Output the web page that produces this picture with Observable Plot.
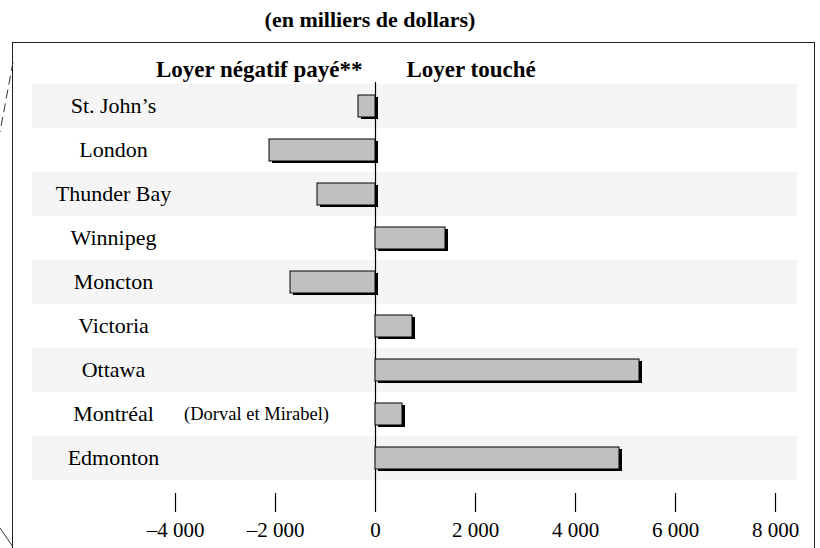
<!DOCTYPE html>
<html>
<head>
<meta charset="utf-8">
<script src="https://cdn.jsdelivr.net/npm/d3@7"></script>
<script src="https://cdn.jsdelivr.net/npm/@observablehq/plot@0.6"></script>
<style>
  html, body { margin: 0; padding: 0; background: #fff; overflow: hidden; }
  #page { position: relative; width: 820px; height: 548px; font-family: "Liberation Serif", "Times New Roman", serif; color: #000; }
  #title { position: absolute; left: 370px; top: 7px; transform: translateX(-50%); font-weight: bold; font-size: 22px; white-space: nowrap; }
  #frame { position: absolute; left: 12px; top: 42px; width: 803px; height: 600px; border: 1.5px solid #222; box-sizing: border-box; }
  #chart { position: absolute; left: 0; top: 43px; }
  #curl { position: absolute; left: 0; top: 0; }
</style>
</head>
<body>
<div id="page">
  <div id="title">(en milliers de dollars)</div>
  <div id="frame"></div>
  <div id="chart"></div>
  <svg id="curl" width="14" height="548">
    <line x1="13" y1="62" x2="0" y2="132" stroke="#333" stroke-width="1" stroke-dasharray="9,5"/>
    <line x1="0" y1="528" x2="13" y2="547" stroke="#333" stroke-width="1"/>
  </svg>
</div>
<script>
// Data
const cities = ["St. John’s", "London", "Thunder Bay", "Winnipeg", "Moncton", "Victoria", "Ottawa", "Montréal", "Edmonton"];
const values = [-340, -2120, -1160, 1400, -1700, 740, 5280, 540, 4880];
const tickValues = [-4000, -2000, 0, 2000, 4000, 6000, 8000];
const headerLeft = ["Loyer négatif payé**"];
const headerRight = ["Loyer touché"];
const noteCities = ["Montréal"];
const noteTexts = ["(Dorval et Mirabel)"];

const data = cities.map((c, i) => ({city: c, value: values[i]}));
const notes = noteCities.map((c, i) => ({city: c, text: noteTexts[i]}));
const banded = cities.filter((c, i) => i % 2 === 0);
const xDomain = [-6860, 8440];

const fmt = d3.formatLocale({decimal: ",", thousands: "\u00a0", grouping: [3], currency: ["", ""], minus: "–"}).format(",d");

const plot = Plot.plot({
  width: 820,
  height: 505,
  marginLeft: 32,
  marginRight: 23,
  marginTop: 39,
  marginBottom: 55,
  style: {fontFamily: "Liberation Serif, Times New Roman, serif", fontSize: "21px", color: "#000", background: "transparent"},
  x: {domain: xDomain, axis: null},
  y: {type: "band", domain: cities, range: [39, 439], padding: 0, axis: null},
  marks: [
    Plot.barX(banded, {x1: xDomain[0], x2: xDomain[1], y: d => d, fill: "#f5f5f5"}),
    Plot.ruleX([0], {stroke: "#000", strokeWidth: 1.2}),
    Plot.barX(data, {x: "value", y: "city", fill: "#000", dx: 3, dy: 2, insetTop: 11, insetBottom: 11}),
    Plot.barX(data, {x: "value", y: "city", fill: "#c0c0c0", stroke: "#000", strokeWidth: 1, insetTop: 11, insetBottom: 11}),
    Plot.axisX({ticks: tickValues, tickSize: 19, tickPadding: 10, tickFormat: fmt, anchor: "bottom", label: null, fontSize: 21, stroke: "#000", strokeWidth: 1.2, fill: "#000"}),
    Plot.text(cities, {y: d => d, frameAnchor: "left", dx: 81, dy: -1, textAnchor: "middle", fontSize: 22, fill: "#000"}),
    Plot.text(notes, {y: "city", text: "text", frameAnchor: "left", dx: 224, textAnchor: "middle", fontSize: 18.5, fill: "#000"}),
    Plot.text(headerLeft, {x: 0, text: d => d, frameAnchor: "top", dx: -13, dy: -22, textAnchor: "end", fontSize: 23, fontWeight: "bold", fill: "#000"}),
    Plot.text(headerRight, {x: 0, text: d => d, frameAnchor: "top", dx: 31, dy: -22, textAnchor: "start", fontSize: 23, fontWeight: "bold", fill: "#000"})
  ]
});
document.getElementById("chart").appendChild(plot);
</script>
</body>
</html>
